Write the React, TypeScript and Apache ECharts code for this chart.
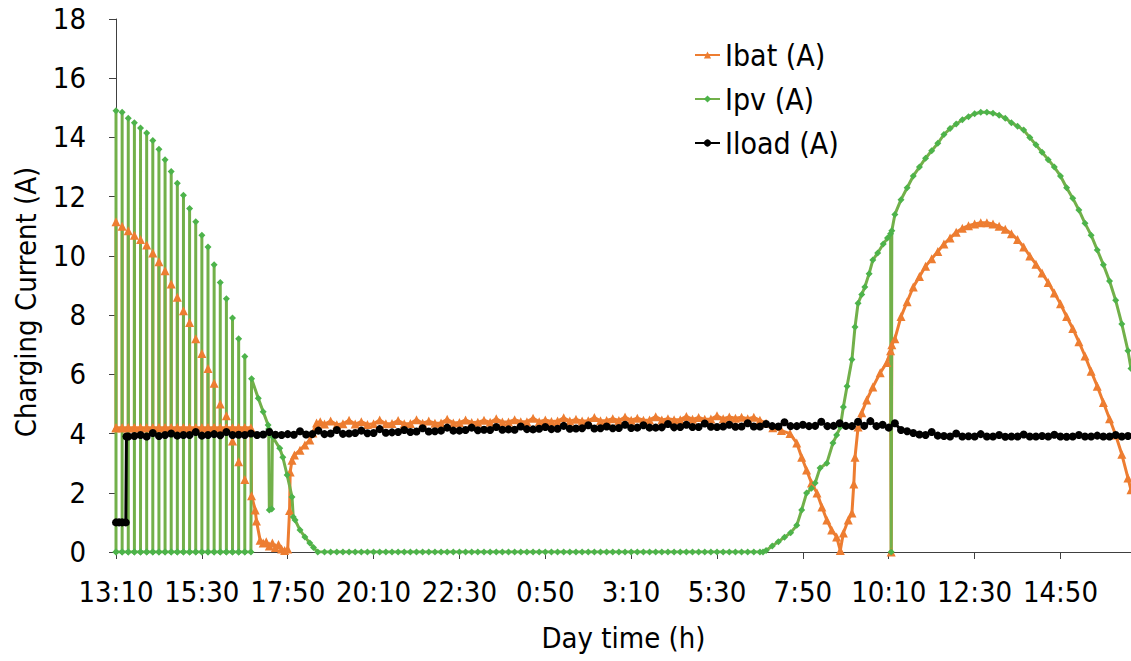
import React, { useEffect, useRef } from "react";
import * as echarts from "echarts";

// Time axis: minutes elapsed since 13:10 on the first day.
const xTickMinutes = [0, 140, 280, 420, 560, 700, 840, 980, 1120, 1260, 1400, 1540];
const xTickLabels = ["13:10", "15:30", "17:50", "20:10", "22:30", "0:50", "3:10", "5:30", "7:50", "10:10", "12:30", "14:50"];
const X_END = 1655;

const seriesNames = ["Ibat (A)", "Ipv (A)", "Iload (A)"];
const yTitle = "Charging Current (A)";
const xTitle = "Day time (h)";

// ---- Ipv: PV current ----
// Afternoon: the controller pulses the panel, readings alternate between the panel current and zero.
const ipvPulses: [number, number][] = [
  [0, 14.9], [10, 14.85], [20, 14.65], [30, 14.5], [40, 14.32], [50, 14.15], [60, 13.9], [70, 13.6],
  [80, 13.25], [90, 12.85], [100, 12.45], [110, 12.05], [120, 11.6], [130, 11.15], [140, 10.7],
  [150, 10.3], [160, 9.7], [170, 9.1], [180, 8.55], [190, 7.9], [200, 7.2], [210, 6.6],
];
const ipvDusk: [number, number][] = [
  [220, 0], [221, 5.85], [232, 5.19], [240, 4.74], [248, 4.29], [249, 4.15], [250, 1.42], [254, 1.45],
  [255, 3.9], [267, 3.5], [272, 3.2], [279, 2.6], [287, 1.86], [289, 1.18], [292, 1.08], [300, 0.74],
  [308, 0.51], [316, 0.3], [322, 0.15], [329, 0],
];
// Night readings, every 10 min from 340 to 1050.
const ipvNight = [
  0, 0, 0, 0, 0, 0, 0, 0, 0, 0, 0, 0, 0, 0, 0, 0, 0, 0, 0, 0, 0, 0, 0, 0,
  0, 0, 0, 0, 0, 0, 0, 0, 0, 0, 0, 0, 0, 0, 0, 0, 0, 0, 0, 0, 0, 0, 0, 0,
  0, 0, 0, 0, 0, 0, 0, 0, 0, 0, 0, 0, 0, 0, 0, 0, 0, 0, 0, 0, 0, 0, 0, 0,
];
const ipvMorning: [number, number][] = [
  [1055, 0], [1060, 0.05], [1070, 0.2], [1080, 0.35], [1090, 0.5], [1100, 0.65], [1110, 0.9],
  [1118, 1.42], [1126, 1.99], [1134, 2.15], [1140, 2.33], [1148, 2.84], [1159, 3.0], [1169, 3.68],
  [1175, 3.95], [1181, 4.22], [1186, 4.9], [1192, 5.6], [1200, 6.5], [1205, 7.6], [1210, 8.4],
  [1216, 8.7], [1221, 8.95], [1228, 9.4], [1234, 9.86], [1242, 10.1], [1251, 10.4], [1258, 10.6],
  [1263, 10.75], [1264, 0], [1265, 10.85],
];
// Day readings, every 10 min from 1270 to 1650.
const ipvDay = [
  11.4, 11.9, 12.3, 12.7, 13.0, 13.3, 13.55, 13.8, 14.1, 14.3, 14.45, 14.6, 14.7, 14.8, 14.85,
  14.85, 14.82, 14.75, 14.65, 14.5, 14.38, 14.25, 14.0, 13.75, 13.5, 13.25, 13.0, 12.7, 12.3,
  11.95, 11.55, 11.1, 10.7, 10.2, 9.7, 9.15, 8.5, 7.7, 6.8,
];
const ipvLast: [number, number][] = [[1655, 6.2]];

// ---- Ibat: battery current ----
const ibatDischarge = 4.2;
const ibatPulses: [number, number][] = [
  [0, 11.15], [10, 11.0], [20, 10.85], [30, 10.7], [40, 10.55], [50, 10.37], [60, 10.1], [70, 9.8],
  [80, 9.5], [90, 9.05], [100, 8.6], [110, 8.15], [120, 7.75], [130, 7.2], [140, 6.7], [150, 6.2],
  [160, 5.7], [170, 5.0], [180, 4.6], [190, 3.75], [200, 3.05], [210, 2.45],
];
const ibatDusk: [number, number][] = [
  [220, 4.2], [221, 1.9], [227, 1.42], [229, 1.05], [235, 0.4], [240, 0.3], [245, 0.35], [250, 0.2],
  [255, 0.3], [260, 0.15], [265, 0.25], [270, 0.1], [275, 0.05], [280, 0.1], [283, 1.4], [284, 2.7],
  [287, 3.1], [291, 3.28], [300, 3.44], [308, 3.61], [316, 3.78], [321, 4.02], [327, 4.36], [333, 4.4],
];
// Night readings, every 10 min from 340 to 1010.
const ibatNight = [
  4.32, 4.42, 4.3, 4.33, 4.45, 4.32, 4.4, 4.31, 4.33, 4.46,
  4.33, 4.34, 4.44, 4.33, 4.34, 4.47, 4.35, 4.42, 4.35, 4.36,
  4.48, 4.36, 4.37, 4.46, 4.37, 4.38, 4.45, 4.38, 4.5, 4.39,
  4.39, 4.47, 4.4, 4.4, 4.52, 4.4, 4.46, 4.41, 4.42, 4.53,
  4.42, 4.48, 4.42, 4.43, 4.54, 4.43, 4.44, 4.5, 4.44, 4.56,
  4.45, 4.52, 4.45, 4.46, 4.57, 4.46, 4.5, 4.47, 4.47, 4.58,
  4.48, 4.54, 4.48, 4.49, 4.6, 4.5, 4.56, 4.52,
];
const ibatMorning: [number, number][] = [
  [1020, 4.55], [1030, 4.5], [1040, 4.55], [1050, 4.45], [1060, 4.35], [1071, 4.2], [1085, 4.1],
  [1099, 4.0], [1110, 3.68], [1118, 3.2], [1126, 2.77], [1134, 2.33], [1143, 1.99], [1151, 1.52],
  [1159, 1.08], [1167, 0.74], [1175, 0.51], [1181, 0.05], [1186, 0.64], [1194, 1.08], [1200, 1.32],
  [1203, 2.3], [1205, 3.2], [1210, 4.22], [1216, 4.7], [1224, 5.13], [1234, 5.57], [1246, 6.05],
  [1257, 6.4], [1263, 6.8], [1264, 0], [1265, 7.0],
];
// Day readings, every 10 min from 1270 to 1650.
const ibatDay = [
  7.2, 7.95, 8.45, 8.95, 9.3, 9.65, 9.9, 10.15, 10.4, 10.6, 10.8, 10.93, 11.02, 11.08, 11.12,
  11.12, 11.08, 11.0, 10.9, 10.75, 10.55, 10.3, 10.0, 9.72, 9.42, 9.1, 8.75, 8.38, 7.95, 7.55,
  7.1, 6.62, 6.1, 5.6, 5.05, 4.5, 3.95, 3.3, 2.5,
];
const ibatLast: [number, number][] = [[1655, 2.1]];

// ---- Iload: load current ----
const iloadStart: [number, number][] = [[0, 1.0], [5, 1.0], [10, 1.0], [16, 1.0], [17, 3.9]];
// Readings every 10 min from 20 to 1650.
const iloadReadings = [
  3.9, 3.92, 3.95, 3.9, 4.02, 3.92, 3.95, 4.0, 3.93, 3.95,
  3.95, 4.05, 3.93, 3.95, 3.98, 3.94, 4.05, 3.95, 3.96, 3.95,
  4.0, 3.95, 3.97, 4.05, 3.96, 3.95, 3.98, 3.96, 4.08, 3.97,
  3.98, 4.1, 3.98, 4.0, 4.12, 3.99, 4.0, 4.02, 4.1, 4.01,
  4.02, 4.15, 4.03, 4.04, 4.05, 4.12, 4.05, 4.07, 4.18, 4.07,
  4.08, 4.1, 4.2, 4.1, 4.1, 4.12, 4.2, 4.11, 4.13, 4.12,
  4.22, 4.13, 4.14, 4.13, 4.24, 4.15, 4.14, 4.16, 4.22, 4.15,
  4.16, 4.26, 4.16, 4.17, 4.18, 4.28, 4.17, 4.18, 4.24, 4.18,
  4.19, 4.3, 4.19, 4.2, 4.28, 4.2, 4.2, 4.21, 4.32, 4.21,
  4.22, 4.3, 4.22, 4.22, 4.34, 4.23, 4.22, 4.24, 4.3, 4.23,
  4.24, 4.35, 4.24, 4.24, 4.32, 4.25, 4.24, 4.38, 4.25, 4.25,
  4.3, 4.25, 4.26, 4.4, 4.25, 4.26, 4.35, 4.26, 4.25, 4.4,
  4.26, 4.42, 4.25, 4.3, 4.2, 4.35, 4.12, 4.08, 4.02, 3.97,
  3.95, 4.05, 3.93, 3.92, 3.9, 4.0, 3.9, 3.91, 3.9, 3.98,
  3.9, 3.9, 3.95, 3.89, 3.9, 3.9, 3.97, 3.9, 3.9, 3.92,
  3.9, 3.96, 3.9, 3.89, 3.9, 3.95, 3.9, 3.9, 3.93, 3.9,
  3.9, 3.95, 3.9, 3.92,
];

const stepped = (start: number, step: number, values: number[]): [number, number][] =>
  values.map((v, i) => [start + i * step, v]);

const pulseTrain = (pulses: [number, number][], base: number): [number, number][] => {
  const out: [number, number][] = [];
  for (const [t, v] of pulses) out.push([t, base], [t, v], [t, base]);
  return out;
};

const ipvData = [
  ...pulseTrain(ipvPulses, 0),
  ...ipvDusk,
  ...stepped(340, 10, ipvNight),
  ...ipvMorning,
  ...stepped(1270, 10, ipvDay),
  ...ipvLast,
];
const ibatData = [
  ...pulseTrain(ibatPulses, ibatDischarge),
  ...ibatDusk,
  ...stepped(340, 10, ibatNight),
  ...ibatMorning,
  ...stepped(1270, 10, ibatDay),
  ...ibatLast,
];
const iloadData = [...iloadStart, ...stepped(20, 10, iloadReadings)];

const FONT = "'DejaVu Sans Condensed', 'Liberation Sans Narrow', 'DejaVu Sans', sans-serif";
const ORANGE = "#ED7D31";
const GREEN_LINE = "#72B04A";
const GREEN_MARK = "#4DB34A";
const AXIS = "#404040";

export default function App() {
  const ref = useRef<HTMLDivElement>(null);

  useEffect(() => {
    if (!ref.current) return;
    const chart = echarts.init(ref.current, undefined, { renderer: "svg" });
    chart.setOption({
      animation: false,
      backgroundColor: "#ffffff",
      textStyle: { fontFamily: FONT, color: "#000" },
      grid: { left: 116, right: 0, top: 19, bottom: 109 },
      legend: {
        data: seriesNames,
        orient: "vertical",
        left: 689,
        top: 34,
        itemWidth: 25,
        itemHeight: 9,
        itemGap: 12,
        textStyle: { fontFamily: FONT, fontSize: 30, lineHeight: 32, color: "#000" },
      },
      graphic: [
        {
          type: "text",
          x: 26,
          y: 302,
          rotation: Math.PI / 2,
          style: {
            text: yTitle,
            fontFamily: FONT,
            fontSize: 29,
            fill: "#000",
            align: "center",
            verticalAlign: "middle",
          },
        },
      ],
      xAxis: {
        type: "value",
        min: 0,
        max: X_END,
        interval: 140,
        name: xTitle,
        nameLocation: "middle",
        nameGap: 71,
        nameTextStyle: { fontFamily: FONT, fontSize: 29, color: "#000" },
        axisLine: { show: true, lineStyle: { color: AXIS, width: 1 } },
        axisTick: { show: true, length: 7, inside: false, customValues: xTickMinutes, lineStyle: { color: AXIS } },
        axisLabel: {
          customValues: xTickMinutes,
          margin: 25,
          fontFamily: FONT,
          fontSize: 29,
          color: "#000",
          formatter: (v: number) => {
            const i = xTickMinutes.indexOf(v);
            return i >= 0 ? xTickLabels[i] : "";
          },
        },
        splitLine: { show: false },
      },
      yAxis: {
        type: "value",
        min: 0,
        max: 18,
        interval: 2,
        axisLine: { show: true, lineStyle: { color: AXIS, width: 1 } },
        axisTick: { show: true, length: 7, lineStyle: { color: AXIS } },
        axisLabel: { margin: 30, fontFamily: FONT, fontSize: 29, color: "#000" },
        splitLine: { show: false },
      },
      series: [
        {
          name: seriesNames[0],
          type: "line",
          data: ibatData,
          symbol: "triangle",
          symbolSize: 9,
          lineStyle: { color: ORANGE, width: 3 },
          itemStyle: { color: ORANGE },
          emphasis: { disabled: true },
        },
        {
          name: seriesNames[1],
          type: "line",
          data: ipvData,
          symbol: "diamond",
          symbolSize: 7,
          lineStyle: { color: GREEN_LINE, width: 3 },
          itemStyle: { color: GREEN_MARK },
          emphasis: { disabled: true },
        },
        {
          name: seriesNames[2],
          type: "line",
          data: iloadData,
          symbol: "circle",
          symbolSize: 8,
          lineStyle: { color: "#000", width: 3 },
          itemStyle: { color: "#000" },
          emphasis: { disabled: true },
        },
      ],
    });
    return () => chart.dispose();
  }, []);

  return (
    <div
      ref={ref}
      style={{ position: "fixed", left: 0, top: 0, width: 1131, height: 661, background: "#fff" }}
    />
  );
}
